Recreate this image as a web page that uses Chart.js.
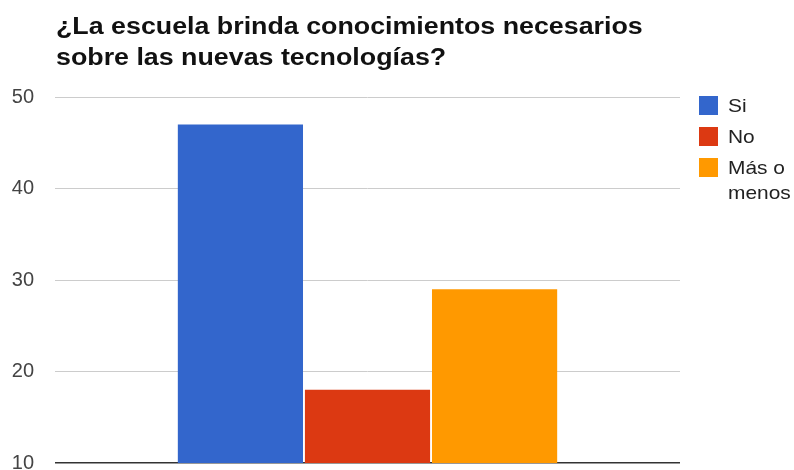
<!DOCTYPE html>
<html>
<head>
<meta charset="utf-8">
<script src="https://cdn.jsdelivr.net/npm/chart.js@4/dist/chart.umd.min.js"></script>
<style>
  body { margin: 0; background: #fff; }
  #wrap { position: relative; width: 794px; height: 470px; }
  #title {
    position: absolute; left: 56px; top: 11px;
    font: bold 23px "Liberation Sans", Arial, sans-serif;
    line-height: 31px; color: #111; white-space: nowrap;
    transform: scaleX(1.165); transform-origin: left top;
  }
  #legend { position: absolute; left: 699px; top: 96px; font: 19px "Liberation Sans", Arial, sans-serif; color: #222; }
  .item { display: flex; align-items: flex-start; height: 31px; }
  .box { width: 19px; height: 19px; margin-right: 10px; flex: none; }
  .txt { line-height: 25px; margin-top: -3px; width: 66px; transform: scaleX(1.1); transform-origin: left top; }
</style>
</head>
<body>
<div id="wrap">
  <canvas id="chart" width="794" height="470"></canvas>
  <div id="title">¿La escuela brinda conocimientos necesarios<br>sobre las nuevas tecnologías?</div>
  <div id="legend"></div>
</div>
<script>
const seriesNames = ['Si', 'No', 'Más o menos']
const seriesValues = [47, 18, 29]
const seriesColors = ['#3366cc', '#dc3912', '#ff9900']
const yTicks = [10, 20, 30, 40, 50]

const datasets = seriesNames.map((name, i) => ({
  label: name,
  data: [seriesValues[i]],
  backgroundColor: seriesColors[i],
  categoryPercentage: 0.61,
  barPercentage: 0.985,
}))

new Chart(document.getElementById('chart'), {
  type: 'bar',
  data: { labels: [''], datasets: datasets },
  options: {
    responsive: false,
    animation: false,
    layout: { padding: { left: 0, right: 114, top: 97, bottom: 7 } },
    plugins: { legend: { display: false }, tooltip: { enabled: false } },
    scales: {
      x: { display: false },
      y: {
        min: yTicks[0],
        max: yTicks[yTicks.length - 1],
        afterBuildTicks: (scale) => { scale.ticks = yTicks.map((v) => ({ value: v })) },
        afterFit: (scale) => {
          scale.width = 55
          // labels sit inside the padding already
          scale.paddingTop = 0
          scale.paddingBottom = 0
        },
        border: { display: false },
        grid: {
          drawTicks: false,
          color: (ctx) => (ctx.tick && ctx.tick.value === 10 ? '#333' : '#ccc'),
          lineWidth: (ctx) => (ctx.tick && ctx.tick.value === 10 ? 1.5 : 1),
        },
        ticks: {
          padding: 21,
          color: '#444',
          font: { family: 'Liberation Sans, Arial, sans-serif', size: 20 },
        },
      },
    },
  },
})

const legend = document.getElementById('legend')
seriesNames.forEach((name, i) => {
  const item = document.createElement('div')
  item.className = 'item'
  item.innerHTML = '<div class="box" style="background:' + seriesColors[i] + '"></div><div class="txt">' + name + '</div>'
  legend.appendChild(item)
})
</script>
</body>
</html>
